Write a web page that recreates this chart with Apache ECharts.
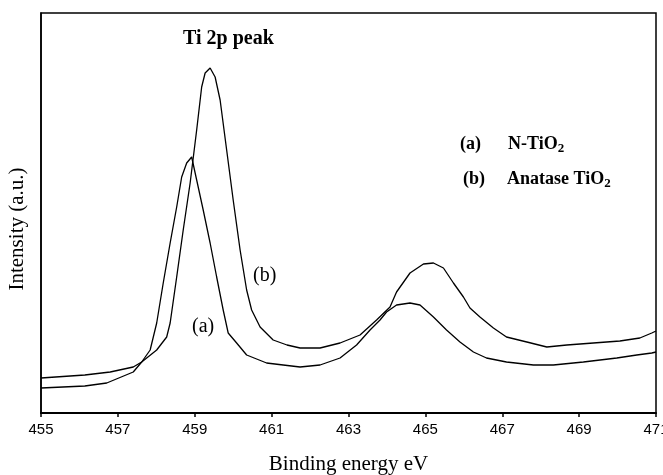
<!DOCTYPE html>
<html>
<head>
<meta charset="utf-8">
<script src="https://cdn.jsdelivr.net/npm/echarts@6/dist/echarts.min.js"></script>
<style>html,body{margin:0;padding:0;background:#fff}#c{width:663px;height:475px}</style>
</head>
<body>
<div id="c"></div>
<script>
// Binding energy (eV) and intensity (a.u.)
const energyB = [455.0,456.14,456.8,457.4,457.62,458.01,458.27,458.36,458.53,458.70,458.88,459.05,459.18,459.27,459.40,459.53,459.66,459.83,460.0,460.18,460.35,460.48,460.70,461.04,461.40,461.74,462.26,462.78,463.30,463.73,464.08,464.25,464.60,464.95,465.21,465.47,465.73,465.99,466.16,466.42,466.77,467.11,467.64,468.16,468.68,469.37,470.06,470.58,470.89,471.0];
const intensityB = [35,38,41,46,51,63,76,90,136,183,230,283,326,340,345,336,313,263,213,163,123,103,86,73,68,65,65,70,78,93,106,121,140,149,150,145,130,116,105,96,85,76,71,66,68,70,72,75,80,82];
const energyA = [455.0,456.14,456.71,457.4,457.62,457.84,458.01,458.18,458.36,458.53,458.66,458.79,458.92,459.05,459.22,459.40,459.57,459.74,459.87,460.09,460.35,460.87,461.3,461.74,462.26,462.78,463.21,463.56,463.82,463.99,464.25,464.60,464.86,465.21,465.55,465.90,466.25,466.59,467.11,467.81,468.33,469.11,469.98,470.50,470.89,471.0];
const intensityA = [25,27,30,41,51,63,90,130,170,206,236,250,256,233,203,170,136,103,80,70,58,50,48,46,48,55,68,83,93,101,108,110,108,96,83,71,61,55,51,48,48,51,55,58,60,61];
const xTicks = [455,457,459,461,463,465,467,469,471];
const seriesNames = ['N-TiO2','Anatase TiO2'];

const serif = '"Liberation Serif","DejaVu Serif",serif';
const chart = echarts.init(document.getElementById('c'));
const zip = (xs, ys) => xs.map((x, i) => [x, ys[i]]);
const sub = { t: { font: 'bold 18px ' + serif, fill: '#000' }, s: { font: 'bold 13px ' + serif, fill: '#000', padding: [10, 0, 0, 0] } };

chart.setOption({
  animation: false,
  backgroundColor: '#fff',
  grid: { left: 41, right: 7, top: 13, bottom: 62, show: true, borderColor: '#000', borderWidth: 1.5,
          containLabel: false, outerBoundsMode: 'none' },
  xAxis: {
    type: 'value', min: xTicks[0], max: xTicks[xTicks.length - 1], interval: 2,
    name: 'Binding energy eV', nameLocation: 'middle', nameGap: 41,
    nameTextStyle: { fontFamily: serif, fontSize: 21, color: '#000' },
    axisLine: { show: true, lineStyle: { color: '#000', width: 2 } },
    axisTick: { show: true, length: 4, lineStyle: { color: '#000', width: 1.5 } },
    axisLabel: { fontFamily: '"Liberation Sans Narrow","Liberation Sans",sans-serif', fontSize: 15, color: '#000', margin: 9 },
    splitLine: { show: false }
  },
  yAxis: {
    type: 'value', min: 0, max: 400,
    axisLine: { show: true, lineStyle: { color: '#000', width: 1.5 } },
    axisTick: { show: false }, axisLabel: { show: false }, splitLine: { show: false }
  },
  series: [
    { name: seriesNames[0], type: 'line', data: zip(energyA, intensityA), showSymbol: false, symbol: 'none',
      lineStyle: { color: '#000', width: 1.3 } },
    { name: seriesNames[1], type: 'line', data: zip(energyB, intensityB), showSymbol: false, symbol: 'none',
      lineStyle: { color: '#000', width: 1.3 } }
  ],
  graphic: [
    { type: 'text', x: 17, y: 229, rotation: Math.PI / 2,
      style: { text: 'Intensity (a.u.)', font: '21px ' + serif, fill: '#000', align: 'center', verticalAlign: 'middle' } },
    { type: 'text', left: 183, top: 29, style: { text: 'Ti 2p peak', font: 'bold 20px ' + serif, fill: '#000' } },
    { type: 'text', left: 253, top: 266, style: { text: '(b)', font: '20px ' + serif, fill: '#000' } },
    { type: 'text', left: 192, top: 317, style: { text: '(a)', font: '20px ' + serif, fill: '#000' } },
    { type: 'text', left: 460, top: 135, style: { text: '(a)', font: 'bold 18px ' + serif, fill: '#000' } },
    { type: 'text', left: 508, top: 135, style: { rich: sub, text: '{t|N-TiO}{s|2}' } },
    { type: 'text', left: 463, top: 170, style: { text: '(b)', font: 'bold 18px ' + serif, fill: '#000' } },
    { type: 'text', left: 507, top: 170, style: { rich: sub, text: '{t|Anatase TiO}{s|2}' } }
  ]
});
</script>
</body>
</html>
